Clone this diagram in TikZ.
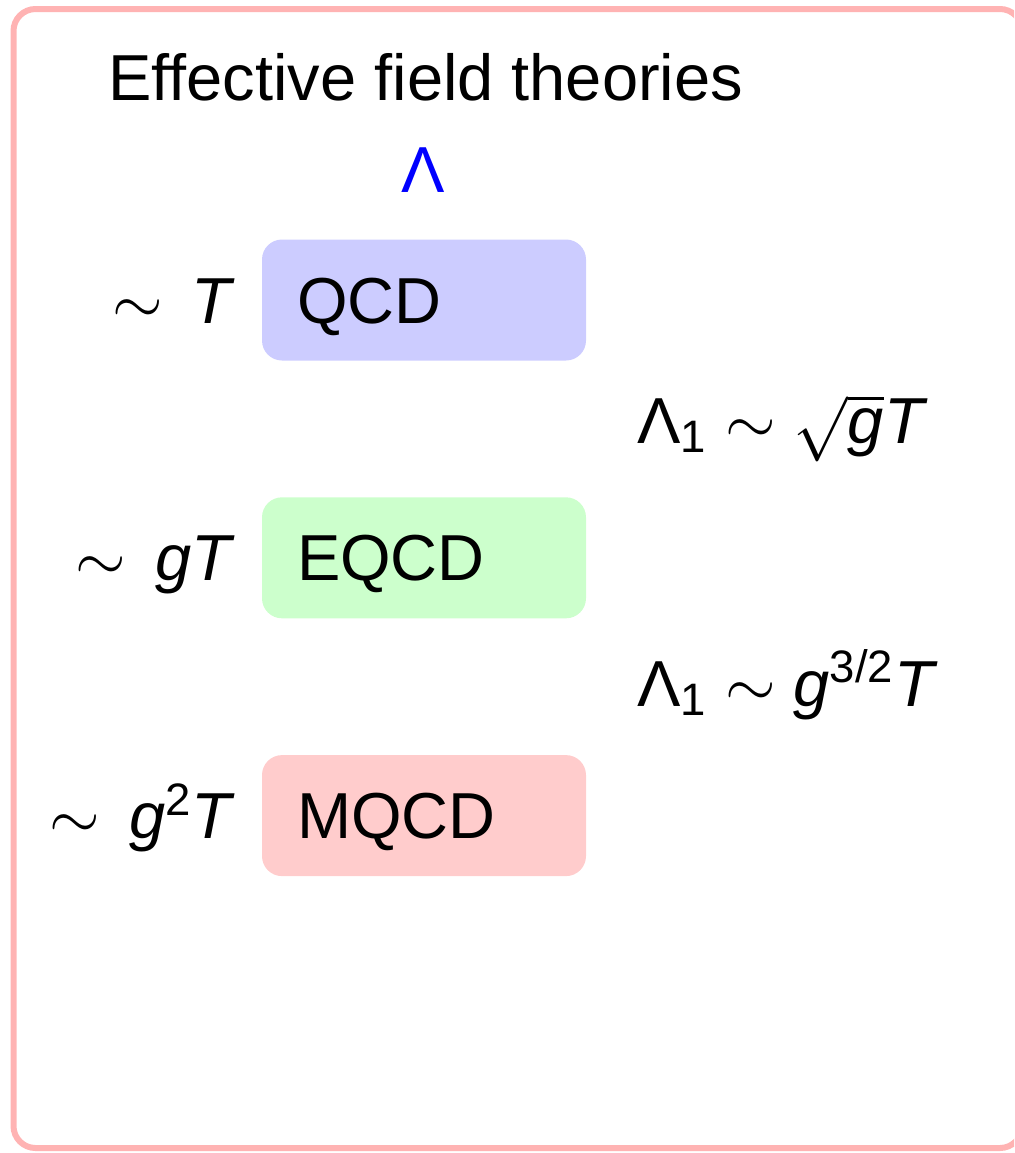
\RequirePackage{fix-cm}
\documentclass[tikz,border=0pt]{standalone}
\usepackage{amsmath}
\usepackage{fontspec}
\setmainfont{Liberation Sans}
\usetikzlibrary{positioning}
\definecolor{qcdblue}{HTML}{CCCCFF}
\definecolor{eqcdgreen}{HTML}{CCFFCC}
\definecolor{mqcdred}{HTML}{FFCCCC}
\definecolor{framepink}{HTML}{FFB3B3}
\tikzset{
  theory/.style={rounded corners=10pt,minimum width=162pt,minimum height=60.5pt,text width=127pt,inner xsep=17.5pt,align=left,text height=23pt,text depth=0pt},
  scalelbl/.style={inner sep=0pt,text height=23pt,text depth=0pt},
  cutoff/.style={anchor=base west,inner sep=0pt}
}
\newcommand{\gsym}{\text{\itshape g}}
\newcommand{\Tsym}{\text{\itshape T}}

\begin{document}
\begin{tikzpicture}[x=0.5pt,y=-0.5pt,font=\fontsize{32.5}{39}\selectfont]
\clip (0,0) rectangle (1014,1153);
\draw[framepink,line width=3pt,rounded corners=11pt] (13.5,9) rectangle (1022,1148);
\node[anchor=base west,inner sep=0pt] (title) at (108,100) {Effective field theories};
\node[anchor=base,inner sep=0pt,text=blue] (lam) at (423,192) {Λ};
\node[theory,fill=qcdblue] (qcd) at (424,300) {QCD};
\node[theory,fill=eqcdgreen,below=68pt of qcd] (eqcd) {EQCD};
\node[theory,fill=mqcdred,below=68pt of eqcd] (mqcd) {MQCD};
\node[scalelbl,left=15pt of qcd] (sq) {$\sim\,\Tsym$};
\node[scalelbl,left=15pt of eqcd] (se) {$\sim\,\gsym\Tsym$};
\node[scalelbl,left=15pt of mqcd] (sm) {$\sim\,\gsym^{\text{2}}\Tsym$};
\node[cutoff] (c1) at (637,443) {$\text{Λ}_{\text{1}}\sim\sqrt{\gsym}\Tsym$};
\node[cutoff] (c2) at (637,706) {$\text{Λ}_{\text{1}}\sim\gsym^{\text{3/2}}\Tsym$};
\end{tikzpicture}
\end{document}
